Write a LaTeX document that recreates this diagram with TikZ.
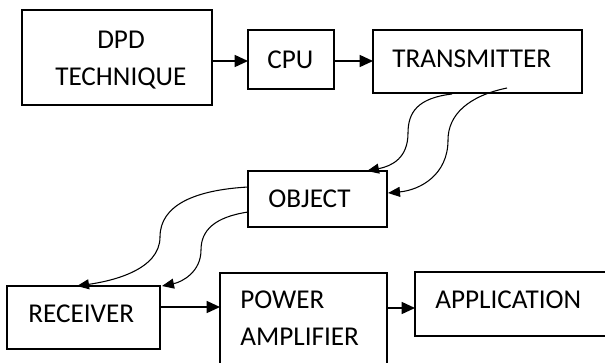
\documentclass[tikz,border=0pt]{standalone}
\usepackage{fontspec}
\setmainfont{Carlito}
\usetikzlibrary{arrows.meta,calc}
\newcommand\pxu{0.75pt}
\tikzset{
  blk/.style n args={2}{draw, line width=1.1pt, rectangle, inner sep=0pt, outer sep=0pt,
     anchor=north west, minimum width={#1*\pxu}, minimum height={#2*\pxu}},
  lbl/.style={inner sep=0pt, anchor=base west, font=\fontsize{20.4}{24}\selectfont},
  arr/.style={line width=1.1pt, -{Triangle[length=10pt,width=9pt]}},
  wave/.style={line width=0.8pt, -{Triangle[length=9pt,width=7.5pt]}}
}
\begin{document}
\begin{tikzpicture}[x=0.75pt,y=-0.75pt]
\useasboundingbox (0,0) rectangle (605,362);
\clip (0,0) rectangle (605,362);
% boxes
\node[blk={190}{95}] (dpd) at (22,10) {};
\node[blk={86}{59}] (cpu) at (248,30) {};
\node[blk={209}{63}] (tx) at (373,30) {};
\node[blk={139}{56}] (obj) at (248,171) {};
\node[blk={153}{63}] (rx) at (7,286) {};
\node[blk={167}{100}] (pa) at (220,273) {};
\node[blk={200}{64}] (app) at (415,272) {};
% texts
\node[lbl] (dpdA) at (97,48) {DPD};
\node[lbl] (dpdB) at (55,85) {TECHNIQUE};
\node[lbl] (cpuT) at (267,68) {CPU};
\node[lbl] (txT) at (392,67) {TRANSMITTER};
\node[lbl] (objT) at (268,207) {OBJECT};
\node[lbl] (rxT) at (28,322) {RECEIVER};
\node[lbl] (paA) at (240,308) {POWER};
\node[lbl] (paB) at (240,345) {AMPLIFIER};
\node[lbl] (appT) at (435,308) {APPLICATION};
% straight arrows
\draw[arr] ($(dpd.north east)+(0,51)$) -- ($(cpu.north west)+(0,31)$);
\draw[arr] ($(cpu.north east)+(0,31)$) -- ($(tx.north west)+(0,31)$);
\draw[arr] ($(rx.north east)+(0,21)$) -- ($(pa.north west)+(0,34)$);
\draw[arr] ($(pa.north east)+(0,35)$) -- ($(app.north west)+(0,36)$);
% wavy connectors
\coordinate (t1) at ($(tx.south west)+(79,1)$);
\coordinate (t2) at ($(tx.south west)+(134,-5)$);
\coordinate (o1) at ($(obj.north west)+(119,0)$);
\coordinate (o2) at ($(obj.north east)+(1,22)$);
\coordinate (o3) at ($(obj.north west)+(0,16)$);
\coordinate (o4) at ($(obj.north west)+(0,41)$);
\coordinate (r1) at ($(rx.north west)+(70,0)$);
\coordinate (r2) at ($(rx.north west)+(155,0)$);
\draw[wave] (t1) .. controls (418,98) and (408,112) .. (408,133)
  .. controls (408,158) and (392,166) .. (o1);
\draw[wave] (t2) .. controls (468,96) and (448,115) .. (448,140)
  .. controls (448,175) and (420,190) .. (o2);
\draw[wave] (o3) .. controls (195,190) and (160,205) .. (160,237)
  .. controls (160,270) and (112,281) .. (r1);
\draw[wave] (o4) .. controls (215,217) and (201,230) .. (201,250)
  .. controls (201,272) and (182,282) .. (r2);
\end{tikzpicture}
\end{document}
